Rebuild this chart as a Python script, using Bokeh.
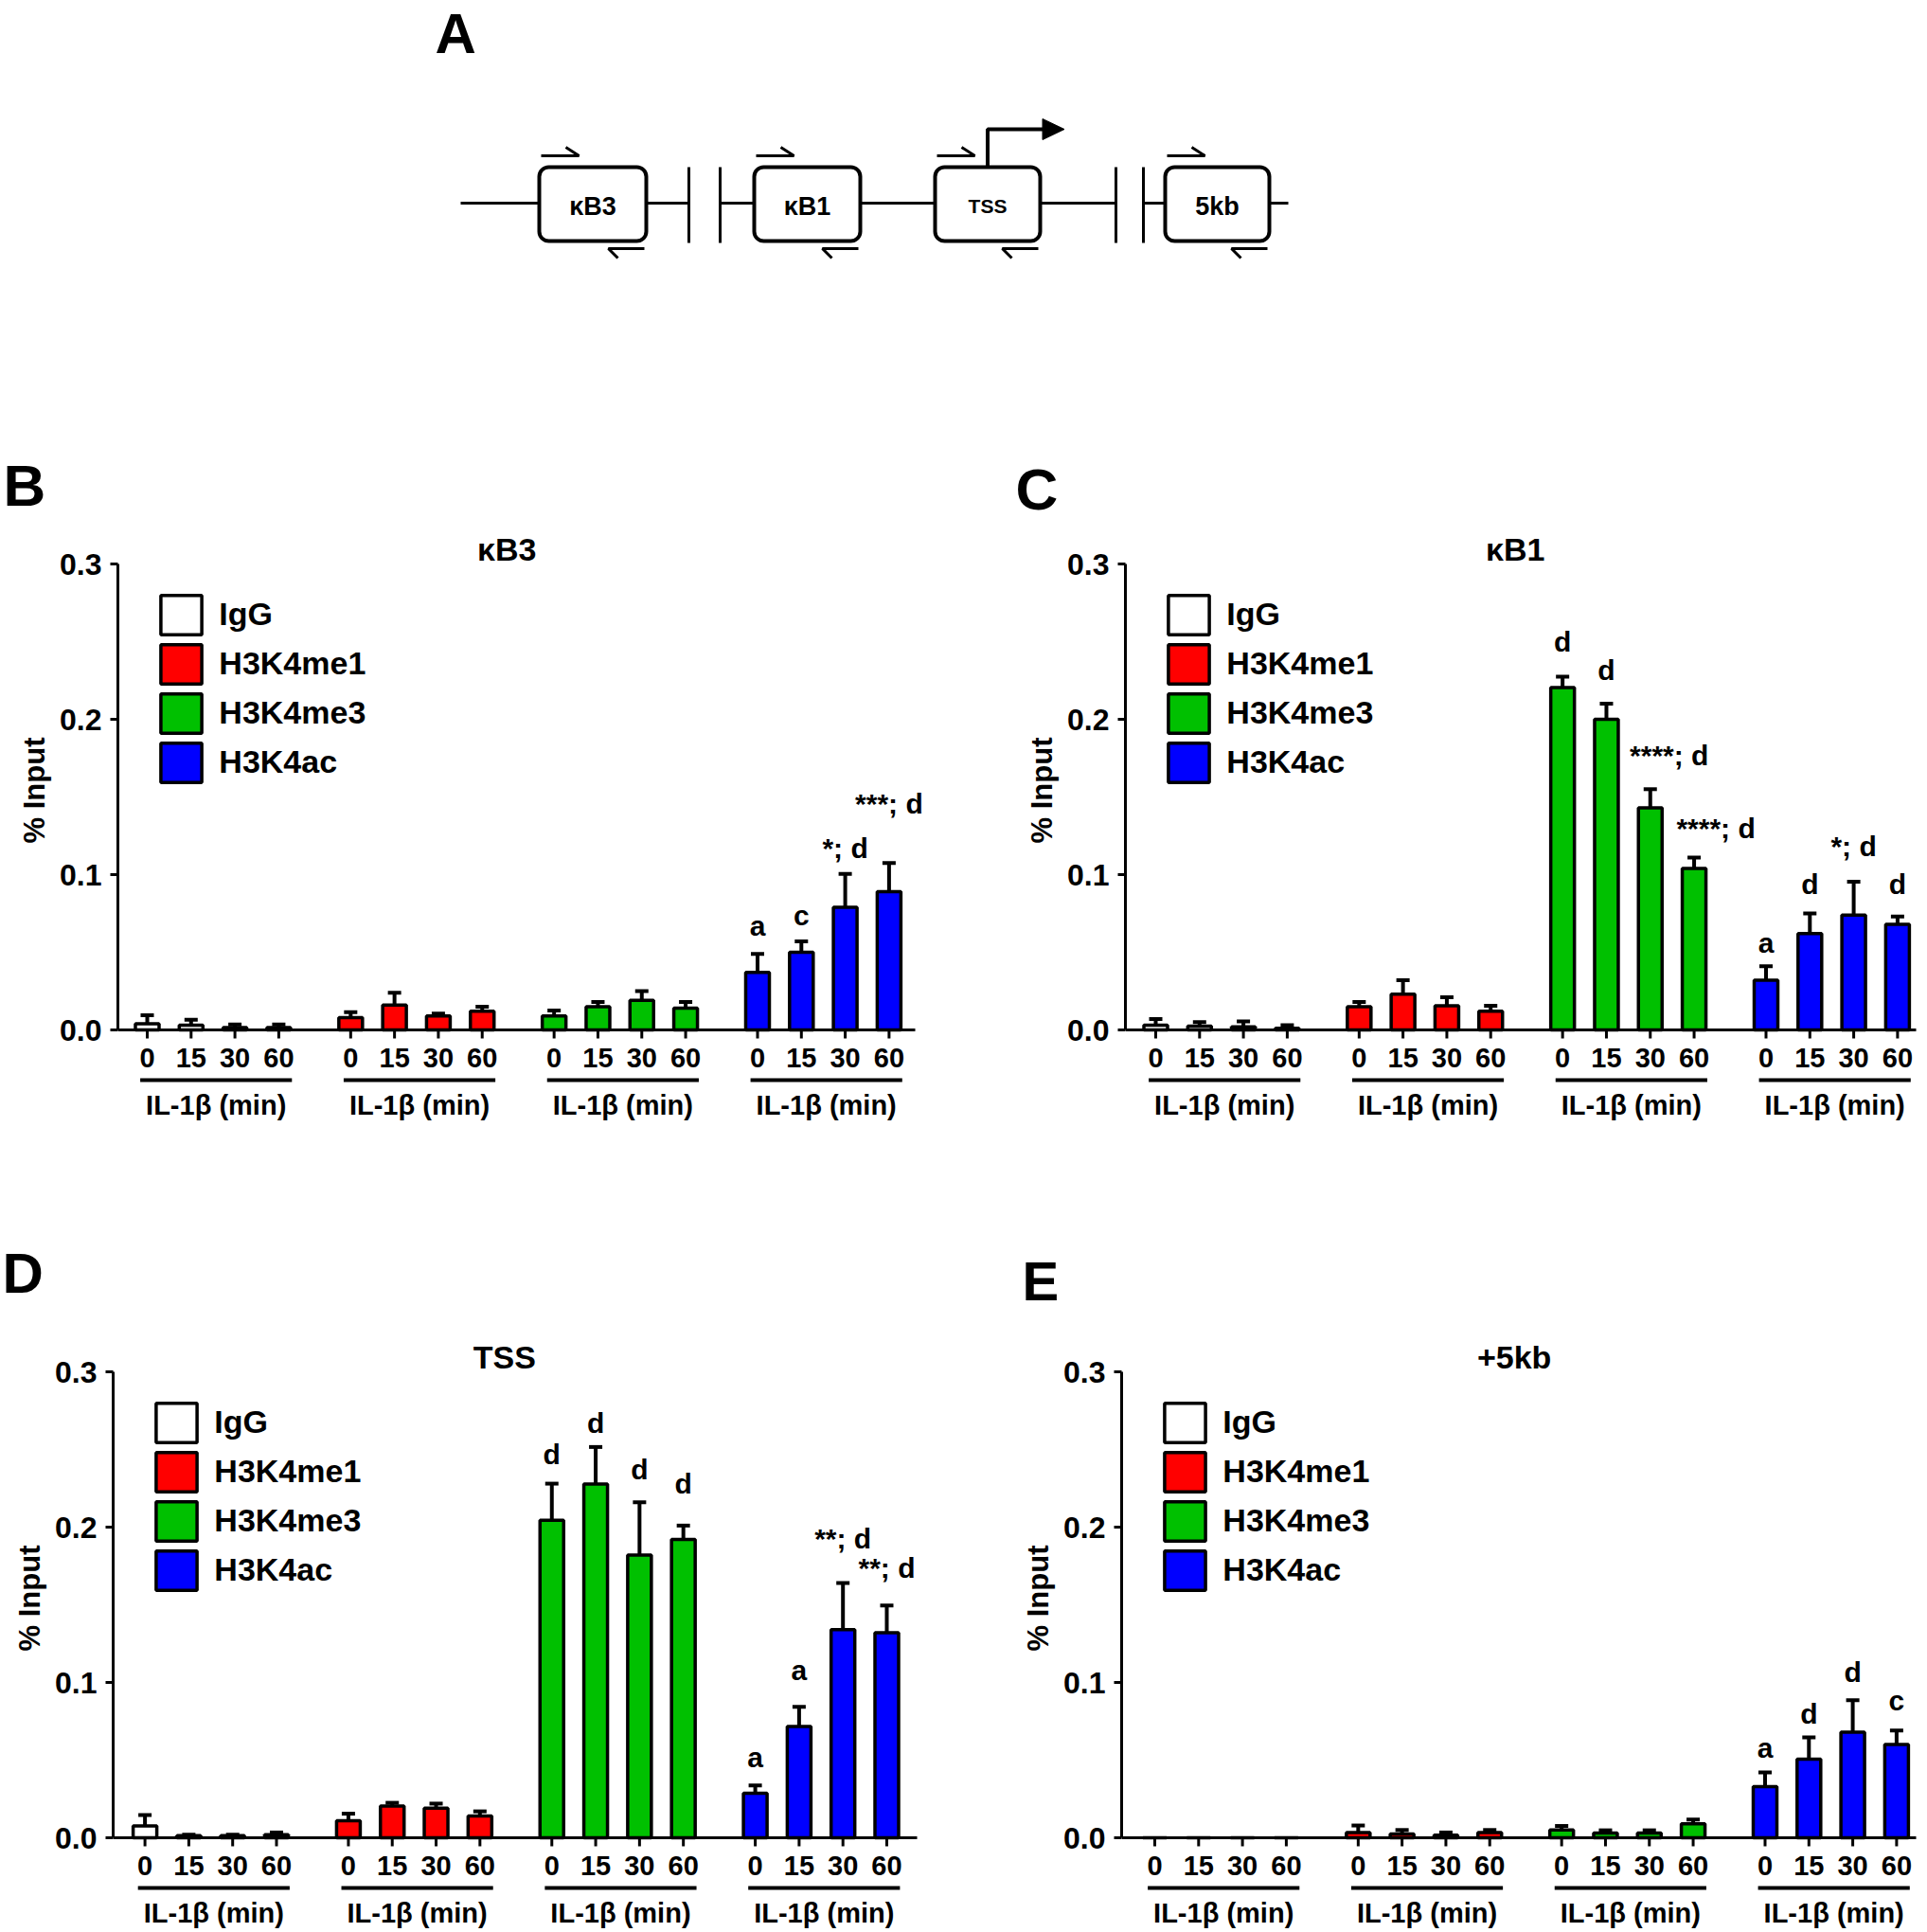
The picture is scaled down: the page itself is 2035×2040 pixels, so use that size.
from bokeh.plotting import figure
from bokeh.models import (Range1d, FixedTicker, Whisker, TeeHead, Legend, LegendItem,
                          ColumnDataSource, Title, PrintfTickFormatter)
from bokeh.layouts import column, row
from bokeh.embed import file_html
from bokeh.resources import INLINE
from bokeh.core.properties import value

FONT = "Liberation Sans"

# ---------------- data ----------------
series = ["IgG", "H3K4me1", "H3K4me3", "H3K4ac"]
series_colors = ["#FFFFFF", "#FF0000", "#00C000", "#0000FF"]
times = ["0", "15", "30", "60"]
x_group_label = "IL-1β (min)"
y_label = "% Input"
y_ticks = [0.0, 0.1, 0.2, 0.3]

# B: kB3
kb3_mean = [[0.004, 0.003, 0.0015, 0.0015],
            [0.008, 0.016, 0.009, 0.012],
            [0.009, 0.015, 0.019, 0.014],
            [0.037, 0.050, 0.079, 0.089]]
kb3_sem = [[0.0055, 0.0035, 0.002, 0.002],
           [0.0035, 0.008, 0.0015, 0.003],
           [0.0035, 0.003, 0.006, 0.004],
           [0.012, 0.007, 0.0215, 0.0185]]
kb3_marks = [(3, 0, "a", 0.067), (3, 1, "c", 0.074), (3, 2, "*; d", 0.117), (3, 3, "***; d", 0.146)]

# C: kB1
kb1_mean = [[0.003, 0.0025, 0.002, 0.001],
            [0.015, 0.023, 0.0155, 0.012],
            [0.2205, 0.200, 0.143, 0.104],
            [0.032, 0.062, 0.074, 0.068]]
kb1_sem = [[0.004, 0.0025, 0.0035, 0.002],
           [0.003, 0.009, 0.0055, 0.0035],
           [0.007, 0.010, 0.012, 0.007],
           [0.009, 0.013, 0.0215, 0.005]]
kb1_marks = [(2, 0, "d", 0.250), (2, 1, "d", 0.232), (2, 2, "****; d", 0.177), (2, 3, "****; d", 0.130),
             (3, 0, "a", 0.056), (3, 1, "d", 0.094), (3, 2, "*; d", 0.1185), (3, 3, "d", 0.094)]

# D: TSS
tss_mean = [[0.0076, 0.0014, 0.0014, 0.002],
            [0.011, 0.0205, 0.019, 0.014],
            [0.2044, 0.2277, 0.182, 0.192],
            [0.0287, 0.0717, 0.134, 0.132]]
tss_sem = [[0.007, 0.0006, 0.0006, 0.0014],
           [0.0045, 0.002, 0.003, 0.003],
           [0.0236, 0.0239, 0.034, 0.009],
           [0.005, 0.0126, 0.030, 0.0176]]
tss_marks = [(2, 0, "d", 0.247), (2, 1, "d", 0.267), (2, 2, "d", 0.2375), (2, 3, "d", 0.228),
             (3, 0, "a", 0.052), (3, 1, "a", 0.108), (3, 2, "**; d", 0.1926), (3, 3, "**; d", 0.1735)]

# E: +5kb
kb5_mean = [[0.0, 0.0, 0.0, 0.0],
            [0.0034, 0.0025, 0.0017, 0.0034],
            [0.005, 0.003, 0.003, 0.009],
            [0.033, 0.0506, 0.068, 0.060]]
kb5_sem = [[0.0, 0.0, 0.0, 0.0],
           [0.0045, 0.0025, 0.0017, 0.0016],
           [0.0026, 0.0018, 0.0018, 0.0028],
           [0.009, 0.0141, 0.0206, 0.009]]
kb5_marks = [(3, 0, "a", 0.058), (3, 1, "d", 0.0796), (3, 2, "d", 0.107), (3, 3, "c", 0.0886)]

# schematic (panel A), in page pixels
dia_regions = ["κB3", "κB1", "TSS", "5kb"]
dia_box_left = [569, 796, 987, 1230]
dia_box_right = [682, 908, 1098, 1340]
dia_breaks = [727, 760, 1178, 1207]
dia_line_ends = [486, 1360]

# ---------------- styling / geometry ----------------
GROUP_STEP = 4.64
SLOT_PX = 46.3
BAR_W = 0.54
YLABEL_PX = 31
YLABEL_LEN = 3.611 * YLABEL_PX   # approx. rendered length of "% Input"


def make_panel(letter, letter_style, title, mean, sem, marks, geo, nudges):
    W, H = geo["w"], geo["h"]
    fl, fr, ft, fb = geo["fl"], geo["fr"], geo["ft"], geo["fb"]
    zero, top03, x0, xend = geo["zero"], geo["top03"], geo["x0"], geo["xend"]
    pxu = (zero - top03) / 0.3
    xs0 = (fl - x0) / SLOT_PX
    xs1 = (fr - x0) / SLOT_PX
    ys1 = (zero - ft) / pxu
    ys0 = -(fb - zero) / pxu
    p = figure(width=W, height=H, x_range=Range1d(xs0, xs1), y_range=Range1d(ys0, ys1),
               x_axis_location=None, toolbar_location=None, output_backend="svg",
               min_border_left=fl, min_border_right=W - fr, min_border_top=ft,
               min_border_bottom=H - fb)
    p.outline_line_color = None
    p.grid.visible = False
    p.background_fill_color = "white"
    p.border_fill_color = "white"

    # panel letter as the plot title (top-left)
    off, stand, fsize = letter_style
    p.title.text = letter
    p.title.align = "left"
    p.title.offset = off
    p.title.standoff = stand
    p.title.text_font = FONT
    p.title.text_font_size = fsize
    p.title.text_font_style = "bold"
    p.title.text_color = "black"

    xs = [[g * GROUP_STEP + i for i in range(4)] for g in range(4)]
    bar_renderers = []
    for g in range(4):
        src = ColumnDataSource(dict(x=xs[g], top=mean[g]))
        r = p.vbar(x="x", top="top", bottom=0, width=BAR_W, source=src,
                   fill_color=series_colors[g], line_color="black", line_width=3.5)
        bar_renderers.append(r)
        keep = [i for i in range(4) if sem[g][i] > 0]
        wsrc = ColumnDataSource(dict(x=[xs[g][i] for i in keep],
                                     lower=[mean[g][i] for i in keep],
                                     upper=[mean[g][i] + sem[g][i] for i in keep]))
        p.add_layout(Whisker(source=wsrc, base="x", lower="lower", upper="upper",
                             dimension="height", line_color="black", line_width=4,
                             upper_head=TeeHead(size=14, line_width=4, line_color="black"),
                             lower_head=None))

    # x baseline and tick marks
    p.segment(x0=[xs0], x1=[(xend - x0) / SLOT_PX], y0=[0], y1=[0],
              line_color="black", line_width=3)
    all_x = [x for gx in xs for x in gx]
    p.segment(x0=all_x, y0=[0] * 16, x1=all_x, y1=[-9 / pxu] * 16,
              line_color="black", line_width=3)
    p.text(x=all_x, y=[0] * 16, text=times * 4, y_offset=29,
           text_font=value(FONT), text_font_style="bold", text_font_size="29px",
           text_align="center", text_baseline="middle", text_color="black")
    # group underline + label
    p.segment(x0=[gx[0] - 0.16 for gx in xs], x1=[gx[3] + 0.3 for gx in xs],
              y0=[-53 / pxu] * 4, y1=[-53 / pxu] * 4, line_color="black", line_width=4)
    p.text(x=[(gx[0] + gx[3]) / 2 + 0.07 for gx in xs], y=[0] * 4, text=[x_group_label] * 4,
           y_offset=79, text_font=value(FONT), text_font_style="bold", text_font_size="29px",
           text_align="center", text_baseline="middle", text_color="black")
    # chart title
    p.text(x=[(xs[0][0] + xs[3][3]) / 2 - 0.26], y=[0.3], text=[title], y_offset=-16,
           text_font=value(FONT), text_font_style="bold", text_font_size="34px",
           text_align="center", text_baseline="middle", text_color="black")
    # significance marks
    msrc = ColumnDataSource(dict(
        x=[xs[g][i] for g, i, _, _ in marks],
        y=[yv for _, _, _, yv in marks],
        t=[t for _, _, t, _ in marks],
        dx=[nudges.get((g, i), 0) for g, i, _, _ in marks]))
    p.text(x="x", y="y", text="t", x_offset="dx", source=msrc,
           text_font=value(FONT), text_font_style="bold", text_font_size="30px",
           text_align="center", text_baseline="middle", text_color="black")

    # y axis
    ax = p.yaxis[0]
    ax.bounds = (0, 0.3)
    ax.ticker = FixedTicker(ticks=y_ticks)
    ax.formatter = PrintfTickFormatter(format="%.1f")
    ax.major_label_text_font = FONT
    ax.major_label_text_font_size = "32px"
    ax.major_label_text_font_style = "bold"
    ax.major_label_text_color = "black"
    ax.major_label_standoff = 9
    ax.axis_line_width = 3
    ax.axis_line_color = "black"
    ax.major_tick_line_width = 3
    ax.major_tick_line_color = "black"
    ax.major_tick_in = 0
    ax.major_tick_out = 8
    ax.minor_tick_line_color = None

    # y axis label, centred on the 0..0.3 span (text starts at its bottom end)
    span_mid = (zero + top03) / 2 - 7
    p.add_layout(Title(text=y_label, align="left", offset=fb - (span_mid + YLABEL_LEN / 2),
                       standoff=14, text_font=FONT, text_font_size=f"{YLABEL_PX}px",
                       text_font_style="bold", text_color="black"), "left")

    # legend
    gh, gw = 52, 54
    leg_h = 4 * gh
    vis_top = top03 + 31
    box_top = vis_top - 0.1 * gh + 1.75
    vy = fb - (box_top + leg_h)
    vx = 44 - 0.1 * gw + 1.75
    legend = Legend(items=[LegendItem(label=s, renderers=[r]) for s, r in zip(series, bar_renderers)],
                    location=(vx, vy), glyph_width=gw, glyph_height=gh, spacing=0,
                    padding=0, margin=0, label_standoff=13,
                    label_text_font=FONT, label_text_font_size="34px", label_text_font_style="bold",
                    label_text_color="black",
                    background_fill_alpha=0, border_line_alpha=0)
    p.add_layout(legend)
    return p


# ---------------- panel A: schematic ----------------
pa = figure(width=2027, height=300, x_range=Range1d(0, 2027), y_range=Range1d(300, 0),
            x_axis_location=None, y_axis_location=None, title=None, toolbar_location=None,
            output_backend="svg", min_border=0)
pa.outline_line_color = None
pa.grid.visible = False

line_y = 214
box_top, box_bot = 176, 254
seg_x0 = [dia_line_ends[0], dia_box_right[0], dia_breaks[1], dia_box_right[1],
          dia_box_right[2], dia_breaks[3], dia_box_right[3]]
seg_x1 = [dia_box_left[0], dia_breaks[0], dia_box_left[1], dia_box_left[2],
          dia_breaks[2], dia_box_left[3], dia_line_ends[1]]
pa.segment(x0=seg_x0, x1=seg_x1, y0=[line_y] * 7, y1=[line_y] * 7, line_color="black", line_width=3)
pa.segment(x0=dia_breaks, x1=dia_breaks, y0=[box_top] * 4, y1=[box_bot + 2] * 4,
           line_color="black", line_width=3)
pa.quad(left=dia_box_left, right=dia_box_right, top=[box_top] * 4, bottom=[box_bot] * 4,
        fill_color="white", line_color="black", line_width=4, border_radius=10)
pa.multi_line(xs=[[L + 2, L + 42, L + 28] for L in dia_box_left],
              ys=[[164, 164, 155]] * 4, line_color="black", line_width=3)
pa.multi_line(xs=[[R - 30, R - 40, R - 2] for R in dia_box_right],
              ys=[[272, 262, 262]] * 4, line_color="black", line_width=3)
tss_x = (dia_box_left[2] + dia_box_right[2]) / 2
pa.line(x=[tss_x, tss_x, tss_x + 61], y=[box_top, 136, 136], line_color="black", line_width=4)
pa.patch(x=[tss_x + 58, tss_x + 81, tss_x + 58], y=[125, 136, 147], fill_color="black",
         line_color="black")
centers = [(l + r) / 2 for l, r in zip(dia_box_left, dia_box_right)]
pa.text(x=[c for c, n in zip(centers, dia_regions) if n != "TSS"],
        y=[line_y + 3] * 3, text=[n for n in dia_regions if n != "TSS"],
        text_font=value(FONT), text_font_style="bold", text_font_size="27px",
        text_align="center", text_baseline="middle", text_color="black")
pa.text(x=[centers[2]], y=[line_y + 3], text=["TSS"],
        text_font=value(FONT), text_font_style="bold", text_font_size="21px",
        text_align="center", text_baseline="middle", text_color="black")
pa.text(x=[459], y=[35], text=["A"], text_font=value(FONT), text_font_style="bold",
        text_font_size="60px", text_align="left", text_baseline="middle", text_color="black")

# ---------------- panels B-E (pixel geometry local to each figure) ----------------
geoB = dict(w=1050, h=890, fl=124, fr=1000, ft=252, fb=888, zero=787, top03=295, x0=155, xend=966)
geoC = dict(w=977, h=890, fl=138, fr=975, ft=252, fb=888, zero=787, top03=295, x0=170, xend=973)
geoD = dict(w=1050, h=848, fl=119, fr=1000, ft=195, fb=846, zero=750, top03=258, x0=152.6, xend=968)
geoE = dict(w=977, h=848, fl=134, fr=975, ft=195, fb=846, zero=750, top03=258, x0=169, xend=973)

pB = make_panel("B", (-121, 11, "62px"), "κB3", kb3_mean, kb3_sem, kb3_marks, geoB, {})
pC = make_panel("C", (-116, 4, "62px"), "κB1", kb1_mean, kb1_sem, kb1_marks, geoC,
                {(2, 2): 20, (2, 3): 23})
pD = make_panel("D", (-117, 15, "60px"), "TSS", tss_mean, tss_sem, tss_marks, geoD, {})
pE = make_panel("E", (-105, 2, "58px"), "+5kb", kb5_mean, kb5_sem, kb5_marks, geoE, {})

layout = column(pa, row(pB, pC, spacing=0), row(pD, pE, spacing=0), spacing=0)
open("out.html", "w").write(file_html(layout, INLINE))
